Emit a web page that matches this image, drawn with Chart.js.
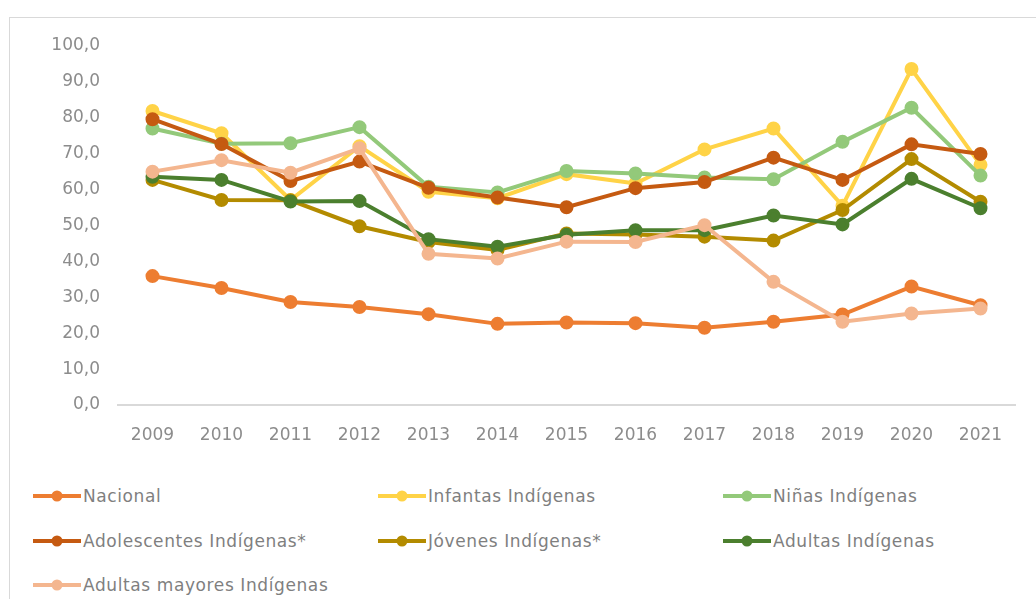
<!DOCTYPE html>
<html>
<head>
<meta charset="utf-8">
<script src="https://cdn.jsdelivr.net/npm/chart.js@4"></script>
<style>
  body { margin: 0; background: #fff; }
  #frame {
    position: absolute; left: 9px; top: 17px; width: 1040px; height: 600px;
    border: 1.5px solid #d9d9d9;
  }
  #wrap { position: absolute; left: 0; top: 0; width: 1036px; height: 440px; }
  #legend { position: absolute; left: 0; top: 0; }
  .item {
    position: absolute; display: flex; align-items: center;
    font-family: "DejaVu Sans", sans-serif; font-size: 17px; letter-spacing: 0.6px; color: #7f7f7f;
    white-space: nowrap; transform: translateY(-50%);
  }
  .item canvas { margin-right: 2px; }
</style>
</head>
<body>
<div id="frame"></div>
<div id="wrap"><canvas id="line-chart"></canvas></div>
<div id="legend"></div>
<script>
const years = ['2009', '2010', '2011', '2012', '2013', '2014', '2015', '2016', '2017', '2018', '2019', '2020', '2021'];

const nacional        = [35.9, 32.6, 28.7, 27.3, 25.3, 22.6, 23.0, 22.8, 21.5, 23.2, 25.2, 33.0, 27.8];
const infantas        = [81.9, 75.7, 57.1, 72.1, 59.4, 57.6, 64.3, 61.7, 71.2, 77.0, 55.5, 93.6, 66.9];
const ninas           = [77.0, 72.8, 72.9, 77.4, 60.8, 59.2, 65.2, 64.5, 63.4, 62.9, 73.3, 82.8, 63.9];
const adolescentes    = [79.6, 72.7, 62.4, 67.8, 60.5, 57.8, 55.1, 60.4, 62.1, 68.9, 62.7, 72.6, 69.9];
const jovenes         = [62.7, 57.1, 57.0, 49.8, 45.4, 43.2, 47.8, 47.5, 46.9, 45.8, 54.3, 68.5, 56.6];
const adultas         = [63.6, 62.7, 56.7, 56.8, 46.2, 44.1, 47.4, 48.7, 48.7, 52.8, 50.3, 63.0, 54.8];
const adultasMayores  = [65.0, 68.2, 64.7, 71.5, 42.1, 40.8, 45.5, 45.4, 50.1, 34.3, 23.2, 25.5, 26.9];

const seriesNames = ['Nacional', 'Infantas Indígenas', 'Niñas Indígenas', 'Adolescentes Indígenas*',
  'Jóvenes Indígenas*', 'Adultas Indígenas', 'Adultas mayores Indígenas'];
const seriesData = [nacional, infantas, ninas, adolescentes, jovenes, adultas, adultasMayores];
const seriesColors = ['#ED7D31', '#FFD347', '#93C97A', '#C55A11', '#B38B00', '#4B7F2E', '#F4B68F'];

// later series drawn on top, like the original
const datasets = seriesNames.map((name, i) => ({
  label: name,
  data: seriesData[i],
  borderColor: seriesColors[i],
  backgroundColor: seriesColors[i],
  borderWidth: 4,
  pointRadius: 5,
  pointHoverRadius: 5,
  tension: 0,
  order: seriesNames.length - i
}));

const chart = new Chart(document.getElementById('line-chart'), {
  type: 'line',
  data: { labels: years, datasets: datasets },
  options: {
    responsive: true,
    maintainAspectRatio: false,
    animation: false,
    layout: { padding: { top: 46, right: 21, left: 0, bottom: 0 } },
    scales: {
      y: {
        min: 0,
        max: 100,
        ticks: {
          stepSize: 10,
          padding: 10,
          color: '#8c8c8c',
          font: { family: 'DejaVu Sans', size: 17 },
          callback: function(value) {
            return value.toFixed(1).replace('.', ',');
          }
        },
        grid: { display: false },
        border: { display: false },
        afterFit: function(scale) { scale.width = 118; }
      },
      x: {
        offset: true,
        ticks: {
          padding: 12,
          color: '#8c8c8c',
          font: { family: 'DejaVu Sans', size: 17 }
        },
        grid: { display: false },
        border: { display: true, color: '#d9d9d9', width: 2 },
        afterFit: function(scale) { scale.height = 35; }
      }
    },
    plugins: {
      legend: { display: false },
      tooltip: { enabled: false }
    }
  }
});

// legend in three columns, built from the chart's datasets
const legendEl = document.getElementById('legend');
const colX = [33, 378, 723];
const rowY = [496, 541, 585];
chart.data.datasets.forEach((ds, i) => {
  const item = document.createElement('div');
  item.className = 'item';
  item.style.left = colX[i % 3] + 'px';
  item.style.top = rowY[Math.floor(i / 3)] + 'px';
  const sw = document.createElement('canvas');
  sw.width = 48; sw.height = 14;
  const c = sw.getContext('2d');
  c.strokeStyle = ds.borderColor;
  c.lineWidth = 4;
  c.beginPath(); c.moveTo(0, 7); c.lineTo(48, 7); c.stroke();
  c.fillStyle = ds.backgroundColor;
  c.beginPath(); c.arc(24, 7, 5.5, 0, Math.PI * 2); c.fill();
  item.appendChild(sw);
  const txt = document.createElement('span');
  txt.textContent = ds.label;
  item.appendChild(txt);
  legendEl.appendChild(item);
});
</script>
</body>
</html>
